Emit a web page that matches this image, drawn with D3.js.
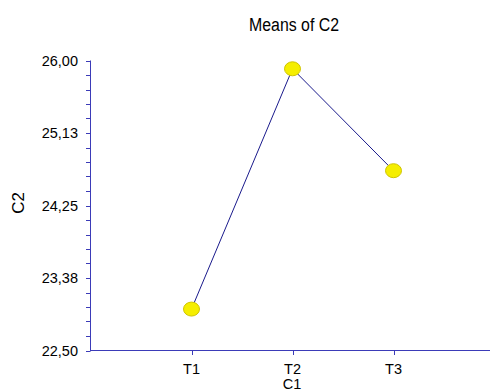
<!doctype html>
<html lang="en">
<head>
<meta charset="UTF-8">
<title>Means of C2</title>
<style>
  html, body { margin: 0; padding: 0; background: #fff; }
  svg { display: block; font-family: 'Liberation Sans', Arial, sans-serif; }
</style>
</head>
<body>
<svg width="492" height="392"></svg>
<script src="https://d3js.org/d3.v7.min.js"></script>
<script>
  const categories = ['T1', 'T2', 'T3']
  const means = [23.00, 25.90, 24.67]
  const yTicks = [22.5, 23.375, 24.25, 25.125, 26.0]
  const yTickLabels = ['22,50', '23,38', '24,25', '25,13', '26,00']

  const svg = d3.select('svg')
  const axisColor = '#3b3bb8'

  const x = d3.scaleLinear().domain([0, 4]).range([90.5, 494.5])
  const y = d3.scaleLinear().domain([22.5, 26]).range([350.5, 60.5])

  // minor ticks on y
  const minor = d3.range(0, 21).map(i => 22.5 + i * 0.175)
  svg.append('g')
    .selectAll('line')
    .data(minor)
    .enter()
    .append('line')
    .attr('x1', 86).attr('x2', 90.5)
    .attr('y1', d => Math.round(y(d)) + 0.5)
    .attr('y2', d => Math.round(y(d)) + 0.5)
    .attr('stroke', axisColor)

  // y axis line
  svg.append('line')
    .attr('x1', 90.5).attr('x2', 90.5)
    .attr('y1', y(26)).attr('y2', y(22.5))
    .attr('stroke', axisColor)

  svg.append('g')
    .selectAll('text')
    .data(yTicks)
    .enter()
    .append('text')
    .attr('x', 78)
    .attr('y', d => y(d) + 5)
    .attr('text-anchor', 'end')
    .attr('font-size', 14.5)
    .text((d, i) => yTickLabels[i])

  // x axis
  svg.append('line')
    .attr('x1', 90).attr('x2', 490)
    .attr('y1', 350.5).attr('y2', 350.5)
    .attr('stroke', axisColor)

  svg.append('g')
    .selectAll('line')
    .data(categories)
    .enter()
    .append('line')
    .attr('x1', (d, i) => Math.round(x(i + 1)) + 0.5)
    .attr('x2', (d, i) => Math.round(x(i + 1)) + 0.5)
    .attr('y1', 350.5).attr('y2', 355)
    .attr('stroke', axisColor)

  svg.append('g')
    .selectAll('text')
    .data(categories)
    .enter()
    .append('text')
    .attr('x', (d, i) => x(i + 1))
    .attr('y', 374)
    .attr('text-anchor', 'middle')
    .attr('font-size', 14.5)
    .text(d => d)

  // line + markers
  const line = d3.line()
    .x((d, i) => x(i + 1))
    .y(d => y(d))

  svg.append('path')
    .datum(means)
    .attr('d', line)
    .attr('fill', 'none')
    .attr('stroke', '#1a1a8c')
    .attr('stroke-width', 1)

  svg.append('g')
    .selectAll('ellipse')
    .data(means)
    .enter()
    .append('ellipse')
    .attr('cx', (d, i) => x(i + 1))
    .attr('cy', d => y(d))
    .attr('rx', 8)
    .attr('ry', 7)
    .attr('fill', '#f5ee00')
    .attr('stroke', '#cfc400')
    .attr('stroke-width', 1)

  // titles
  svg.append('text')
    .attr('x', 249)
    .attr('y', 31)
    .attr('font-size', 18)
    .attr('textLength', 90)
    .attr('lengthAdjust', 'spacingAndGlyphs')
    .text('Means of C2')

  svg.append('text')
    .attr('x', 292)
    .attr('y', 389)
    .attr('text-anchor', 'middle')
    .attr('font-size', 14.5)
    .text('C1')

  svg.append('text')
    .attr('transform', 'translate(24,203) rotate(-90)')
    .attr('text-anchor', 'middle')
    .attr('font-size', 17)
    .text('C2')
</script>
</body>
</html>
